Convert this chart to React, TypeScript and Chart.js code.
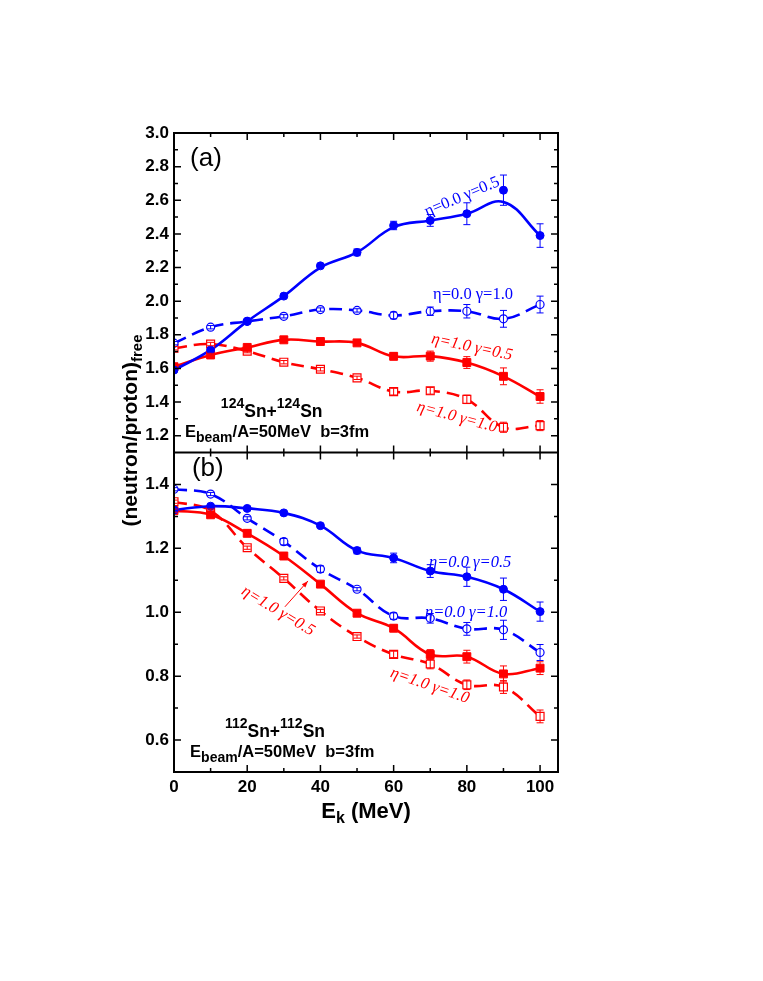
import React, { useEffect, useRef } from 'react';
import { Chart, registerables } from 'chart.js';

Chart.register(...registerables);

// ---------------- data ----------------
const energies = [0, 10, 20, 30, 40, 50, 60, 70, 80, 90, 100];

// panel (a): 124Sn+124Sn
const blueA = [1.59, 1.71, 1.88, 2.03, 2.21, 2.29, 2.45, 2.48, 2.52, 2.66, 2.39];
const blueAFit = [1.59, 1.71, 1.88, 2.03, 2.2, 2.29, 2.44, 2.48, 2.52, 2.59, 2.39];
const blueAErr = [0.01, 0.01, 0.01, 0.01, 0.01, 0.02, 0.025, 0.035, 0.065, 0.09, 0.07];
const blueAOpen = [1.75, 1.845, 1.88, 1.91, 1.95, 1.945, 1.915, 1.94, 1.94, 1.895, 1.98];
const blueAOpenErr = [0.01, 0.01, 0.01, 0.01, 0.01, 0.01, 0.02, 0.025, 0.04, 0.05, 0.05];
const redA = [1.61, 1.68, 1.725, 1.77, 1.76, 1.752, 1.672, 1.673, 1.635, 1.553, 1.433];
const redAErr = [0.01, 0.01, 0.01, 0.01, 0.01, 0.01, 0.02, 0.03, 0.035, 0.05, 0.04];
const redAOpen = [1.72, 1.745, 1.703, 1.637, 1.595, 1.544, 1.462, 1.467, 1.416, 1.25, 1.26];
const redAOpenErr = [0.01, 0.01, 0.01, 0.01, 0.01, 0.01, 0.02, 0.02, 0.025, 0.03, 0.03];

// panel (b): 112Sn+112Sn
const blueB = [1.32, 1.332, 1.325, 1.311, 1.271, 1.193, 1.17, 1.129, 1.111, 1.072, 1.002];
const blueBErr = [0.005, 0.005, 0.005, 0.005, 0.005, 0.01, 0.015, 0.02, 0.03, 0.035, 0.03];
const blueBOpen = [1.385, 1.37, 1.294, 1.221, 1.135, 1.072, 0.988, 0.981, 0.948, 0.945, 0.874];
const blueBOpenErr = [0.005, 0.005, 0.005, 0.01, 0.01, 0.005, 0.01, 0.015, 0.02, 0.03, 0.025];
const redB = [1.318, 1.305, 1.247, 1.176, 1.088, 0.997, 0.95, 0.868, 0.861, 0.807, 0.825];
const redBErr = [0.005, 0.005, 0.005, 0.005, 0.005, 0.005, 0.01, 0.015, 0.02, 0.025, 0.02];
const redBOpen = [1.346, 1.318, 1.202, 1.106, 1.004, 0.924, 0.868, 0.838, 0.773, 0.766, 0.674];
const redBOpenErr = [0.005, 0.005, 0.005, 0.005, 0.005, 0.005, 0.01, 0.015, 0.015, 0.02, 0.02];

// axes
const xTicks = [0, 20, 40, 60, 80, 100];
const xMinor = [10, 30, 50, 70, 90];
const yaTicks = [1.2, 1.4, 1.6, 1.8, 2.0, 2.2, 2.4, 2.6, 2.8, 3.0];
const yaMinor = [1.3, 1.5, 1.7, 1.9, 2.1, 2.3, 2.5, 2.7, 2.9];
const ybTicks = [0.6, 0.8, 1.0, 1.2, 1.4];
const ybMinor = [0.7, 0.9, 1.1, 1.3];

const BLUE = '#0000ff';
const RED = '#ff0000';
const SANS = '"Liberation Sans", Arial, sans-serif';
const SERIF = '"Liberation Serif", "Times New Roman", serif';

type Series = {
  axis: 'ya' | 'yb';
  values: number[];
  fit: number[];
  errors: number[];
  color: string;
  dashed: boolean;
  style: 'circle' | 'rect';
  filled: boolean;
};

const series: Series[] = [
  { axis: 'ya', values: blueA, fit: blueAFit, errors: blueAErr, color: BLUE, dashed: false, style: 'circle', filled: true },
  { axis: 'ya', values: blueAOpen, fit: blueAOpen, errors: blueAOpenErr, color: BLUE, dashed: true, style: 'circle', filled: false },
  { axis: 'ya', values: redA, fit: redA, errors: redAErr, color: RED, dashed: false, style: 'rect', filled: true },
  { axis: 'ya', values: redAOpen, fit: redAOpen, errors: redAOpenErr, color: RED, dashed: true, style: 'rect', filled: false },
  { axis: 'yb', values: blueB, fit: blueB, errors: blueBErr, color: BLUE, dashed: false, style: 'circle', filled: true },
  { axis: 'yb', values: blueBOpen, fit: blueBOpen, errors: blueBOpenErr, color: BLUE, dashed: true, style: 'circle', filled: false },
  { axis: 'yb', values: redB, fit: redB, errors: redBErr, color: RED, dashed: false, style: 'rect', filled: true },
  { axis: 'yb', values: redBOpen, fit: redBOpen, errors: redBOpenErr, color: RED, dashed: true, style: 'rect', filled: false },
];

const notes = [
  { text: 'η=0.0 γ=0.5', axis: 'ya', x: 78.7, y: 2.62, angle: -23, color: BLUE, italic: false },
  { text: 'η=0.0 γ=1.0', axis: 'ya', x: 81.7, y: 2.04, angle: 0, color: BLUE, italic: false },
  { text: 'η=1.0 γ=0.5', axis: 'ya', x: 81.4, y: 1.726, angle: 12, color: RED, italic: true },
  { text: 'η=1.0 γ=1.0', axis: 'ya', x: 77.3, y: 1.31, angle: 15, color: RED, italic: true },
  { text: 'η=0.0 γ=0.5', axis: 'yb', x: 80.9, y: 1.154, angle: 0, color: BLUE, italic: true },
  { text: 'η=0.0 γ=1.0', axis: 'yb', x: 79.8, y: 0.998, angle: 0, color: BLUE, italic: true },
  { text: 'η=1.0 γ=0.5', axis: 'yb', x: 28.4, y: 1.004, angle: 31, color: RED, italic: true },
  { text: 'η=1.0 γ=1.0', axis: 'yb', x: 69.9, y: 0.77, angle: 19, color: RED, italic: true },
];

const arrowNote = { axis: 'yb', x1: 30.3, y1: 1.017, x2: 36.6, y2: 1.098, color: RED };

const panelLabels = [
  { text: '(a)', axis: 'ya', x: 4.4, y: 2.805 },
  { text: '(b)', axis: 'yb', x: 4.9, y: 1.426 },
];

type Part = { t: string; size: number; dy: number };
const reactionLabels: { axis: string; x: number; y: number; parts: Part[] }[] = [
  { axis: 'ya', x: 12.8, y: 1.313, parts: [
    { t: '124', size: 14, dy: -9 }, { t: 'Sn+', size: 17.5, dy: 0 }, { t: '124', size: 14, dy: -9 }, { t: 'Sn', size: 17.5, dy: 0 } ] },
  { axis: 'ya', x: 3.0, y: 1.194, parts: [
    { t: 'E', size: 16.5, dy: 0 }, { t: 'beam', size: 14, dy: 5 }, { t: '/A=50MeV  b=3fm', size: 16.5, dy: 0 } ] },
  { axis: 'yb', x: 13.9, y: 0.61, parts: [
    { t: '112', size: 14, dy: -9 }, { t: 'Sn+', size: 17.5, dy: 0 }, { t: '112', size: 14, dy: -9 }, { t: 'Sn', size: 17.5, dy: 0 } ] },
  { axis: 'yb', x: 4.4, y: 0.548, parts: [
    { t: 'E', size: 16.5, dy: 0 }, { t: 'beam', size: 14, dy: 5 }, { t: '/A=50MeV  b=3fm', size: 16.5, dy: 0 } ] },
];

function drawParts(ctx: CanvasRenderingContext2D, parts: Part[], x: number, y: number, center: boolean) {
  let total = 0;
  for (const p of parts) {
    ctx.font = `bold ${p.size}px ${SANS}`;
    total += ctx.measureText(p.t).width;
  }
  let cx = center ? x - total / 2 : x;
  ctx.textAlign = 'left';
  ctx.textBaseline = 'alphabetic';
  for (const p of parts) {
    ctx.font = `bold ${p.size}px ${SANS}`;
    ctx.fillText(p.t, cx, y + p.dy);
    cx += ctx.measureText(p.t).width;
  }
}

const panelPlugin = {
  id: 'panelPlugin',
  afterDatasetsDraw(chart: any) {
    const ctx: CanvasRenderingContext2D = chart.ctx;
    const xs = chart.scales.x;
    const ya = chart.scales.ya;
    const yb = chart.scales.yb;
    const area = chart.chartArea;

    // error bars
    ctx.save();
    ctx.beginPath();
    ctx.rect(area.left, area.top, area.right - area.left, area.bottom - area.top);
    ctx.clip();
    for (const s of series) {
      const ys = chart.scales[s.axis];
      ctx.strokeStyle = s.color;
      ctx.lineWidth = 1;
      s.values.forEach((v, i) => {
        const e = s.errors[i];
        const px = xs.getPixelForValue(energies[i]);
        const p1 = ys.getPixelForValue(v + e);
        const p2 = ys.getPixelForValue(v - e);
        ctx.beginPath();
        ctx.moveTo(px, p1); ctx.lineTo(px, p2);
        ctx.moveTo(px - 3.5, p1); ctx.lineTo(px + 3.5, p1);
        ctx.moveTo(px - 3.5, p2); ctx.lineTo(px + 3.5, p2);
        ctx.stroke();
      });
    }
    ctx.restore();

    // frame
    ctx.save();
    ctx.strokeStyle = '#000';
    ctx.lineWidth = 2;
    ctx.strokeRect(area.left, area.top, area.right - area.left, area.bottom - area.top);
    ctx.beginPath();
    ctx.moveTo(area.left, ya.bottom);
    ctx.lineTo(area.right, ya.bottom);
    ctx.stroke();

    // inward ticks
    ctx.lineWidth = 1.5;
    const yTick = (sc: any, vals: number[], len: number) => {
      for (const v of vals) {
        const py = sc.getPixelForValue(v);
        ctx.beginPath();
        ctx.moveTo(area.left, py); ctx.lineTo(area.left + len, py);
        ctx.moveTo(area.right, py); ctx.lineTo(area.right - len, py);
        ctx.stroke();
      }
    };
    yTick(ya, yaTicks, 7); yTick(ya, yaMinor, 4);
    yTick(yb, ybTicks, 7); yTick(yb, ybMinor, 4);
    const xTick = (vals: number[], len: number) => {
      for (const v of vals) {
        const px = xs.getPixelForValue(v);
        for (const sc of [ya, yb]) {
          ctx.beginPath();
          ctx.moveTo(px, sc.top); ctx.lineTo(px, sc.top + len);
          ctx.moveTo(px, sc.bottom); ctx.lineTo(px, sc.bottom - len);
          ctx.stroke();
        }
      }
    };
    xTick(xTicks, 7); xTick(xMinor, 4);
    ctx.restore();

    // annotations
    ctx.save();
    for (const n of notes) {
      const sc = chart.scales[n.axis];
      const px = xs.getPixelForValue(n.x);
      const py = sc.getPixelForValue(n.y);
      ctx.save();
      ctx.translate(px, py);
      ctx.rotate((n.angle * Math.PI) / 180);
      ctx.fillStyle = n.color;
      ctx.font = `${n.italic ? 'italic ' : ''}16.5px ${SERIF}`;
      ctx.textAlign = 'center';
      ctx.textBaseline = 'middle';
      ctx.fillText(n.text, 0, 0);
      ctx.restore();
    }
    // arrow
    {
      const sc = chart.scales[arrowNote.axis];
      const x1 = xs.getPixelForValue(arrowNote.x1), y1 = sc.getPixelForValue(arrowNote.y1);
      const x2 = xs.getPixelForValue(arrowNote.x2), y2 = sc.getPixelForValue(arrowNote.y2);
      ctx.strokeStyle = arrowNote.color;
      ctx.fillStyle = arrowNote.color;
      ctx.lineWidth = 1;
      ctx.beginPath(); ctx.moveTo(x1, y1); ctx.lineTo(x2, y2); ctx.stroke();
      const a = Math.atan2(y2 - y1, x2 - x1);
      ctx.beginPath();
      ctx.moveTo(x2, y2);
      ctx.lineTo(x2 - 7 * Math.cos(a - 0.35), y2 - 7 * Math.sin(a - 0.35));
      ctx.lineTo(x2 - 7 * Math.cos(a + 0.35), y2 - 7 * Math.sin(a + 0.35));
      ctx.closePath();
      ctx.fill();
    }
    // panel labels
    ctx.fillStyle = '#000';
    for (const p of panelLabels) {
      const sc = chart.scales[p.axis];
      ctx.font = `26px ${SANS}`;
      ctx.textAlign = 'left';
      ctx.textBaseline = 'alphabetic';
      ctx.fillText(p.text, xs.getPixelForValue(p.x), sc.getPixelForValue(p.y));
    }
    // reaction labels
    for (const r of reactionLabels) {
      const sc = chart.scales[r.axis];
      drawParts(ctx, r.parts, xs.getPixelForValue(r.x), sc.getPixelForValue(r.y), false);
    }
    // axis titles
    drawParts(ctx, [
      { t: 'E', size: 22, dy: 0 }, { t: 'k', size: 16, dy: 5 }, { t: ' (MeV)', size: 22, dy: 0 },
    ], (area.left + area.right) / 2, area.bottom + 46, true);
    ctx.save();
    ctx.translate(area.left - 37, (area.top + area.bottom) / 2 - 22);
    ctx.rotate(-Math.PI / 2);
    drawParts(ctx, [
      { t: '(neutron/proton)', size: 21, dy: 0 }, { t: 'free', size: 15, dy: 5 },
    ], 0, 0, true);
    ctx.restore();
    ctx.restore();
  },
};

export default function App() {
  const ref = useRef<HTMLCanvasElement>(null);
  useEffect(() => {
    const canvas = ref.current;
    if (!canvas) return;
    const datasets: any[] = [];
    // markers first (drawn on top)
    for (const s of series) {
      datasets.push({
        data: energies.map((x, i) => ({ x, y: s.values[i] })),
        yAxisID: s.axis,
        xAxisID: 'x',
        showLine: false,
        pointStyle: s.style,
        pointRadius: s.style === 'rect' ? 5.6 : 4,
        pointBackgroundColor: s.filled ? s.color : '#ffffff',
        pointBorderColor: s.color,
        pointBorderWidth: s.filled ? 1 : 1.2,
        clip: 0,
      });
    }
    for (const s of series) {
      datasets.push({
        data: energies.map((x, i) => ({ x, y: s.fit[i] })),
        yAxisID: s.axis,
        xAxisID: 'x',
        showLine: true,
        borderColor: s.color,
        borderWidth: 2.6,
        borderDash: s.dashed ? [13, 7] : [],
        tension: 0.4,
        pointRadius: 0,
        fill: false,
        clip: 0,
      });
    }
    const tickFont = { family: SANS, size: 17, weight: 'bold' as const };
    const chart = new Chart(canvas, {
      type: 'scatter',
      data: { datasets },
      options: {
        animation: false,
        responsive: false,
        events: [],
        layout: { padding: { left: 110, right: 202, top: 133, bottom: 143 } },
        plugins: { legend: { display: false }, tooltip: { enabled: false } },
        scales: {
          x: {
            type: 'linear',
            position: 'bottom',
            min: 0,
            max: 104.9,
            afterBuildTicks: (s: any) => { s.ticks = xTicks.map((v) => ({ value: v })); },
            afterFit: (s: any) => { s.height = 60; },
            grid: { display: false, drawTicks: false },
            border: { display: false },
            ticks: { font: tickFont, color: '#000', padding: 5, maxRotation: 0, autoSkip: false },
          },
          yb: {
            type: 'linear',
            position: 'left',
            stack: 'panels',
            stackWeight: 1,
            min: 0.5,
            max: 1.5,
            afterBuildTicks: (s: any) => { s.ticks = ybTicks.map((v) => ({ value: v })); },
            afterFit: (s: any) => { s.width = 64; },
            grid: { display: false, drawTicks: false },
            border: { display: false },
            ticks: { font: tickFont, color: '#000', padding: 5, autoSkip: false, callback: (v: any) => Number(v).toFixed(1) },
          },
          ya: {
            type: 'linear',
            position: 'left',
            stack: 'panels',
            stackWeight: 1,
            min: 1.1,
            max: 3.0,
            afterBuildTicks: (s: any) => { s.ticks = yaTicks.map((v) => ({ value: v })); },
            afterFit: (s: any) => { s.width = 64; },
            grid: { display: false, drawTicks: false },
            border: { display: false },
            ticks: { font: tickFont, color: '#000', padding: 5, autoSkip: false, callback: (v: any) => Number(v).toFixed(1) },
          },
        },
      } as any,
      plugins: [panelPlugin],
    });
    return () => chart.destroy();
  }, []);
  return (
    <div style={{ position: 'absolute', left: 0, top: 0 }}>
      <canvas ref={ref} width={760} height={975} style={{ display: 'block', width: 760, height: 975 }} />
    </div>
  );
}
